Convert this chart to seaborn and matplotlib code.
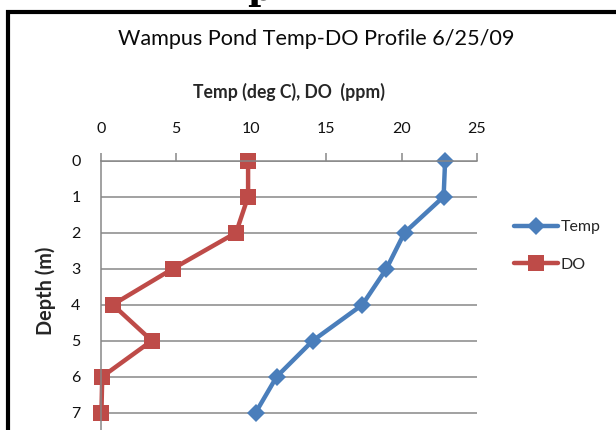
import matplotlib
matplotlib.use("Agg")
import matplotlib.pyplot as plt
import seaborn as sns
import pandas as pd
from matplotlib.patches import Rectangle

depth = [0, 1, 2, 3, 4, 5, 6, 7]
temp = [22.9, 22.8, 20.2, 19.0, 17.4, 14.1, 11.7, 10.3]
do = [9.8, 9.8, 9.0, 4.8, 0.8, 3.4, 0.1, 0.05]
series_names = ["Temp", "DO"]
x_ticks = [0, 5, 10, 15, 20, 25]
y_ticks = [0, 1, 2, 3, 4, 5, 6, 7]

df = pd.DataFrame({
    "depth": depth * 2,
    "value": temp + do,
    "series": ["Temp"] * len(depth) + ["DO"] * len(depth),
})

sns.set_style("white")
plt.rcParams["font.family"] = ["Lato", "DejaVu Sans"]

W, H = 616, 430
fig = plt.figure(figsize=(W / 100, H / 100), dpi=100)
left_px, right_px, top_px, bottom_px = 100.7, 476.7, 160.7, 448.7
ax = fig.add_axes([left_px / W, 1 - bottom_px / H, (right_px - left_px) / W, (bottom_px - top_px) / H])

blue = "#4A7EBB"
red = "#BE4B48"
sns.lineplot(data=df, x="value", y="depth", hue="series", style="series",
             hue_order=series_names, style_order=series_names,
             palette={"Temp": blue, "DO": red},
             markers={"Temp": "D", "DO": "s"}, dashes=False,
             sort=False, estimator=None, ax=ax, lw=3.2,
             markersize=9.5, markeredgewidth=0)
for line in ax.get_lines():
    line.set_clip_on(False)
    if line.get_marker() == "s":
        line.set_markersize(12)

ax.set_xlim(0, 25)
ax.set_ylim(8, 0)
ax.set_xticks(x_ticks)
ax.set_yticks(y_ticks)
ax.xaxis.tick_top()
ax.xaxis.set_label_position("top")
grid_c = "#878787"
ax.yaxis.grid(True, color=grid_c, lw=1.1)
ax.xaxis.grid(False)
for s in ["right", "bottom"]:
    ax.spines[s].set_visible(False)
for s in ["top", "left"]:
    ax.spines[s].set_color(grid_c)
    ax.spines[s].set_linewidth(1.1)
ax.tick_params(axis="x", direction="out", length=5.5, width=1.1, color=grid_c,
               pad=12, labelsize=11.5, labelcolor="#111111")
ax.tick_params(axis="y", direction="out", length=5.5, width=1.1, color=grid_c,
               pad=9, labelsize=11.5, labelcolor="#111111")
ax.set_axisbelow(True)

ax.set_xlabel("Temp (deg C), DO  (ppm)", fontsize=12.7, fontweight="bold")
ax.xaxis.set_label_coords(0.5, 1 + (top_px - 92) / (bottom_px - top_px))
ax.xaxis.label.set_va("center")
ax.set_ylabel("Depth (m)", fontsize=14.3, fontweight="bold")
ax.yaxis.set_label_coords((46 - left_px) / (right_px - left_px), (bottom_px - 291) / (bottom_px - top_px))
ax.yaxis.label.set_va("center")

fig.text(316 / W, 1 - 39 / H, "Wampus Pond Temp-DO Profile 6/25/09",
         ha="center", va="center", fontsize=15.6, color="#0a0a0a")

handles, labels = ax.get_legend_handles_labels()
leg = ax.legend(handles, labels, loc="upper left",
                bbox_to_anchor=(514 / W, 1 - 220 / H), bbox_transform=fig.transFigure,
                frameon=False, fontsize=11.5, handlelength=2.75, handletextpad=0.15,
                labelspacing=1.45, borderpad=0, borderaxespad=0)

# chart border (partially cropped)
fig.patches.append(Rectangle((8 / W, -0.2), 2.0, 1.2 - 11.5 / H, transform=fig.transFigure,
                             fill=False, edgecolor="black", lw=3, zorder=10))
# cropped heading fragment above
fig.text(260 / W, 1.0, "p", ha="center", va="baseline", fontsize=26,
         fontweight="bold", family="DejaVu Serif", color="black")

fig.savefig("out.png", dpi=100)
